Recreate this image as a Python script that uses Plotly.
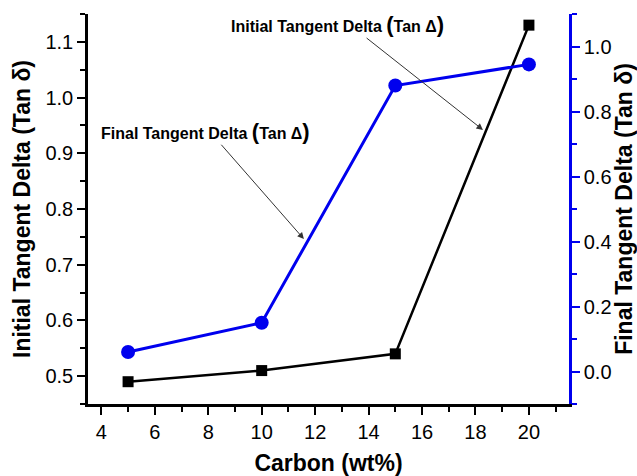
import plotly.graph_objects as go

carbon = [5, 10, 15, 20]
initial_tan = [0.49, 0.51, 0.54, 1.13]
final_tan = [0.06, 0.15, 0.88, 0.945]

FONT = "Liberation Sans, Arial, sans-serif"

fig = go.Figure()
fig.add_trace(go.Scatter(x=carbon, y=initial_tan, mode="lines+markers",
                         line=dict(color="black", width=2.5),
                         marker=dict(symbol="square", size=11, color="black"),
                         yaxis="y"))
fig.add_trace(go.Scatter(x=carbon, y=final_tan, mode="lines+markers",
                         line=dict(color="#0000ee", width=3),
                         marker=dict(symbol="circle", size=14, color="#0000ee"),
                         yaxis="y2"))

fig.update_layout(
    width=637, height=476,
    margin=dict(l=88, r=68, t=14, b=72),
    plot_bgcolor="white", paper_bgcolor="white",
    showlegend=False,
    font=dict(family=FONT, size=20, color="black"),
    xaxis=dict(range=[3.5, 21.5], tickmode="linear", tick0=4, dtick=2, automargin=False,
               showgrid=False, zeroline=False, showline=True, linecolor="black", linewidth=2.5,
               ticks="outside", ticklen=8, tickwidth=2, tickcolor="black",
               minor=dict(ticks="outside", ticklen=5, tickwidth=2, dtick=1, tick0=4, tickcolor="black"),
               title=dict(text="<b>Carbon (wt%)</b>", font=dict(size=23), standoff=19),
               tickfont=dict(size=20)),
    yaxis=dict(range=[0.45, 1.15], tickmode="linear", tick0=0.5, dtick=0.1, tickformat=".1f", automargin=False,
               showgrid=False, zeroline=False, showline=True, linecolor="black", linewidth=2.5,
               ticks="outside", ticklen=8, tickwidth=2, tickcolor="black",
               minor=dict(ticks="outside", ticklen=5, tickwidth=2, dtick=0.05, tick0=0.45, tickcolor="black"),
               title=dict(text="<b>Initial Tangent Delta (Tan δ)</b>", font=dict(size=23), standoff=9),
               tickfont=dict(size=20)),
    yaxis2=dict(range=[-0.1, 1.1], overlaying="y", side="right", anchor="x", automargin=False,
                tickmode="linear", tick0=0, dtick=0.2, tickformat=".1f",
                showgrid=False, zeroline=False, showline=True, linecolor="#0000ee", linewidth=2.5,
                ticks="outside", ticklen=8, tickwidth=2, tickcolor="#0000ee",
                minor=dict(ticks="outside", ticklen=5, tickwidth=2, dtick=0.1, tick0=-0.1, tickcolor="#0000ee"),
                title=dict(text="<b>Final Tangent Delta (Tan δ)</b>", font=dict(size=23, color="black"), standoff=4),
                tickfont=dict(size=20, color="black")),
)

ann_font = dict(family=FONT, size=16, color="black")
fig.add_annotation(x=12.85, y=1.132, xref="x", yref="y", showarrow=False,
                   text="<b>Initial Tangent Delta <span style='font-size:22px'>(</span>Tan Δ<span style='font-size:22px'>)</span></b>",
                   font=ann_font)
fig.add_annotation(x=7.9, y=0.94, xref="x", yref="y", showarrow=False,
                   text="<b>Final Tangent Delta <span style='font-size:22px'>(</span>Tan Δ<span style='font-size:22px'>)</span></b>",
                   font=ann_font)
fig.add_annotation(x=18.28, y=0.942, ax=13.87, ay=1.109, xref="x", yref="y", axref="x", ayref="y",
                   text="", showarrow=True, arrowhead=2, arrowsize=1.3, arrowwidth=1, arrowcolor="#333333")
fig.add_annotation(x=11.58, y=0.746, ax=8.44, ay=0.918, xref="x", yref="y", axref="x", ayref="y",
                   text="", showarrow=True, arrowhead=2, arrowsize=1.3, arrowwidth=1, arrowcolor="#333333")

fig.write_html("out.html")
